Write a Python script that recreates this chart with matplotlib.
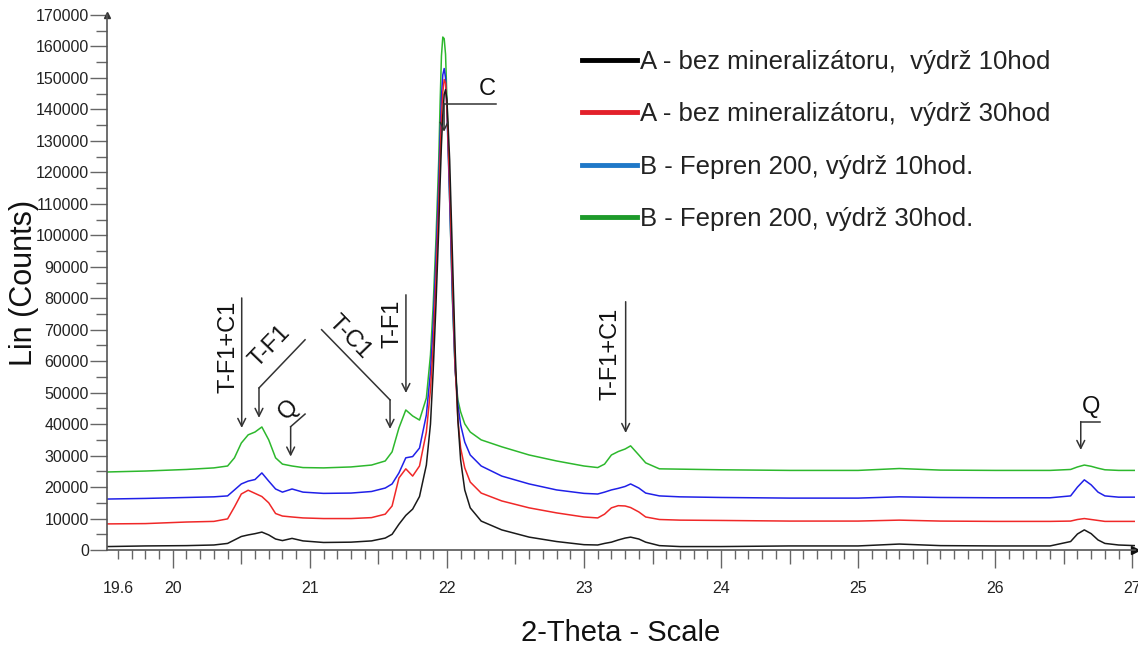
import matplotlib
matplotlib.use('Agg')
import numpy as np
import matplotlib.pyplot as plt
from matplotlib.lines import Line2D
from matplotlib.ticker import FixedLocator, FuncFormatter

plt.rcParams['font.family'] = ['Liberation Sans', 'DejaVu Sans']

#==================================================================
# values
two_theta = [19.52, 19.8, 20.1, 20.3, 20.4,
             20.45, 20.5, 20.55, 20.6, 20.65,
             20.7, 20.75, 20.8, 20.87, 20.95,
             21.1, 21.3, 21.45, 21.55, 21.6,
             21.65, 21.7, 21.75, 21.8, 21.85,
             21.88, 21.9, 21.92, 21.94, 21.95,
             21.96, 21.97, 21.98, 21.99, 22.0,
             22.02, 22.04, 22.06, 22.08, 22.1,
             22.13, 22.17, 22.25, 22.4, 22.6,
             22.8, 23.0, 23.1, 23.15, 23.2,
             23.25, 23.3, 23.34, 23.4, 23.45,
             23.55, 23.7, 24.0, 24.5, 25.0,
             25.3, 25.6, 26.0, 26.4, 26.55,
             26.6, 26.65, 26.7, 26.75, 26.8,
             26.9, 27.02]

a_10h = [1100, 1300, 1400, 1600, 2100,
         3200, 4300, 4800, 5200, 5700,
         4800, 3500, 3000, 3700, 2900,
         2400, 2500, 2900, 3800, 5000,
         8200, 11000, 13000, 17000, 27000,
         40000, 57200, 77900, 101800, 116100,
         128800, 138300, 144700, 146300, 143100,
         124000, 93800, 63600, 41300, 28600,
         19100, 13400, 9200, 6400, 4100,
         2700, 1700, 1600, 2100, 2500,
         3200, 3800, 4100, 3500, 2500,
         1400, 1100, 1100, 1300, 1300,
         1900, 1400, 1300, 1300, 2700,
         5100, 6400, 5200, 3200, 2100,
         1600, 1400]

a_30h = [8300, 8400, 8900, 9100, 9900,
         13700, 17800, 19000, 18000, 17000,
         15000, 11600, 10800, 10500, 10200,
         10000, 10000, 10300, 11400, 14000,
         22900, 25800, 23500, 26700, 37500,
         50900, 65200, 85900, 109700, 124000,
         137500, 145500, 149500, 148300, 140500,
         116100, 85900, 58800, 41300, 32400,
         26100, 21600, 18100, 15600, 13400,
         11800, 10500, 10200, 11400, 13400,
         14100, 14000, 13500, 12100, 10500,
         9700, 9500, 9400, 9200, 9200,
         9500, 9200, 9100, 9100, 9200,
         9700, 10000, 9700, 9400, 9100,
         9100, 9100]

b_10h = [16200, 16400, 16700, 16900, 17200,
         19100, 21000, 21900, 22400, 24500,
         21900, 19400, 18400, 19400, 18400,
         18000, 18100, 18600, 19700, 21000,
         24500, 29300, 29700, 32400, 42900,
         56600, 71600, 92200, 116100, 131000,
         144000, 151000, 153000, 150000, 139500,
         111300, 81100, 57200, 46100, 39800,
         34300, 30200, 26700, 23500, 21000,
         19100, 18000, 17800, 18400, 19100,
         19600, 20200, 21000, 19700, 18100,
         17200, 16900, 16700, 16500, 16500,
         16900, 16700, 16600, 16600, 17200,
         20000, 22300, 20700, 18400, 17200,
         16800, 16800]

b_30h = [24800, 25100, 25600, 26100, 26700,
         29300, 34000, 36600, 37500, 39100,
         35000, 29300, 27300, 26700, 26200,
         26100, 26400, 27000, 28300, 31200,
         38800, 44500, 42600, 41300, 48300,
         62000, 77900, 98600, 123500, 141500,
         157000, 163000, 162500, 157500, 143500,
         111300, 79500, 57200, 47700, 43900,
         40100, 37500, 35000, 32800, 30200,
         28300, 26700, 26200, 27300, 30200,
         31300, 32100, 33100, 30200, 27700,
         25800, 25700, 25500, 25300, 25300,
         25900, 25400, 25300, 25300, 25600,
         26400, 27000, 26600, 26000, 25500,
         25300, 25300]

series_labels = ['A - bez mineralizátoru,  výdrž 10hod',
                 'A - bez mineralizátoru,  výdrž 30hod',
                 'B - Fepren 200, výdrž 10hod.',
                 'B - Fepren 200, výdrž 30hod.']

x_tick_values = [19.6, 20, 21, 22, 23, 24, 25, 26, 27]
x_tick_labels = ['19.6', '20', '21', '22', '23', '24', '25', '26', '27']
#==================================================================

curve_colors = ['#1a1a1a', '#f02828', '#2020e8', '#2db82d']
legend_colors = ['#000000', '#e3202a', '#1f78c8', '#1d9a2a']
ann_color = '#333333'

fig = plt.figure(figsize=(11.38, 6.5), dpi=100)
ax = fig.add_axes([0.094, 0.1538, 0.9034, 0.8231])

# green first so black ends up on top
series = [a_10h, a_30h, b_10h, b_30h]
for ys, col in reversed(list(zip(series, curve_colors))):
    ax.plot(two_theta, ys, color=col, lw=1.1)

ax.set_xlim(19.52, 27.02)
ax.set_ylim(0, 170000)

# axes look
for s in ['top', 'right']:
    ax.spines[s].set_visible(False)
for s in ['left', 'bottom']:
    ax.spines[s].set_color('#555555')
    ax.spines[s].set_linewidth(1.2)
ax.plot(1, 0, '>', transform=ax.transAxes, clip_on=False, color='#111', ms=6)
ax.plot(0, 1, '^', transform=ax.transAxes, clip_on=False, color='#333', ms=5)

ax.set_xticks(x_tick_values)
ax.set_xticklabels(x_tick_labels)
minor_x = [v for v in np.round(np.arange(19.6, 27.01, 0.1), 1) if v % 1 != 0 and v != 19.6]
ax.xaxis.set_minor_locator(FixedLocator(minor_x))
ax.tick_params(axis='x', which='major', length=13, width=1, color='#666',
               pad=9, labelsize=11.5, labelcolor='#222')
ax.tick_params(axis='x', which='minor', length=6.5, width=1, color='#666')
# 19.6 gets a short tick, the halves a longer one
ax.xaxis.get_major_ticks()[0].tick1line.set_markersize(6.5)
for t, v in zip(ax.xaxis.get_minor_ticks(), minor_x):
    if abs(v * 2 - round(v * 2)) < 1e-6:
        t.tick1line.set_markersize(10)

ax.set_yticks(np.arange(0, 170001, 10000))
ax.yaxis.set_minor_locator(FixedLocator(np.arange(5000, 170000, 10000)))
ax.yaxis.set_major_formatter(FuncFormatter(lambda v, p: '%d' % v))
ax.tick_params(axis='y', which='major', length=12, width=1, color='#666',
               pad=1, labelsize=11.5, labelcolor='#222')
ax.tick_params(axis='y', which='minor', length=8, width=1, color='#666')

ax.set_ylabel('Lin (Counts)', fontsize=22, color='#111')
ax.yaxis.set_label_coords(-0.066, 0.5)
ax.set_xlabel('2-Theta - Scale', fontsize=21, color='#111')
ax.xaxis.set_label_coords(0.5, -0.129)

#==================================================================
# peak labels with leader lines
annotations = [
    ('T-F1+C1', (20.403, 64600), 90, [(20.503, 80100), (20.503, 38800)]),
    ('T-F1', (20.709, 64600), 46, [(20.965, 66800), (20.629, 51500), (20.629, 42000)]),
    ('Q', (20.848, 44500), 45, [(20.965, 43200), (20.860, 39200), (20.860, 29700)]),
    ('T-C1', (21.293, 67700), -46, [(21.086, 70000), (21.585, 47700), (21.585, 38500)]),
    ('T-F1', (21.606, 71900), 90, [(21.701, 81100), (21.701, 49900)]),
    ('T-F1+C1', (23.19, 62300), 90, [(23.304, 78900), (23.304, 37200)]),
    ('Q', (26.699, 45500), 0, [(26.764, 40800), (26.624, 40800), (26.624, 31800)]),
    ('C', (22.292, 146600), 0, [(22.358, 141800), (21.979, 141800), (21.979, 132900)]),
]
for label, txy, rot, path in annotations:
    xs = [p[0] for p in path]
    ys = [p[1] for p in path]
    if len(path) > 2:
        ax.plot(xs[:-1], ys[:-1], color=ann_color, lw=1.1)
    ax.annotate('', xy=path[-1], xytext=path[-2],
                arrowprops=dict(arrowstyle='->', color=ann_color, lw=1.1,
                                shrinkA=0, shrinkB=0, mutation_scale=14))
    ax.text(txy[0], txy[1], label, rotation=rot, ha='center', va='center',
            fontsize=17, color='#111')
#==================================================================

handles = [Line2D([], [], color=c, lw=3.5) for c in legend_colors]
leg = fig.legend(handles, series_labels, loc='upper left',
                 bbox_to_anchor=(582 / 1138, 1 - 50 / 650), frameon=False,
                 fontsize=18.5, handlelength=2.15, handletextpad=0.1,
                 labelspacing=1.1, borderpad=0, borderaxespad=0)
for t in leg.get_texts():
    t.set_color('#222')

fig.savefig('out.png', dpi=100)
